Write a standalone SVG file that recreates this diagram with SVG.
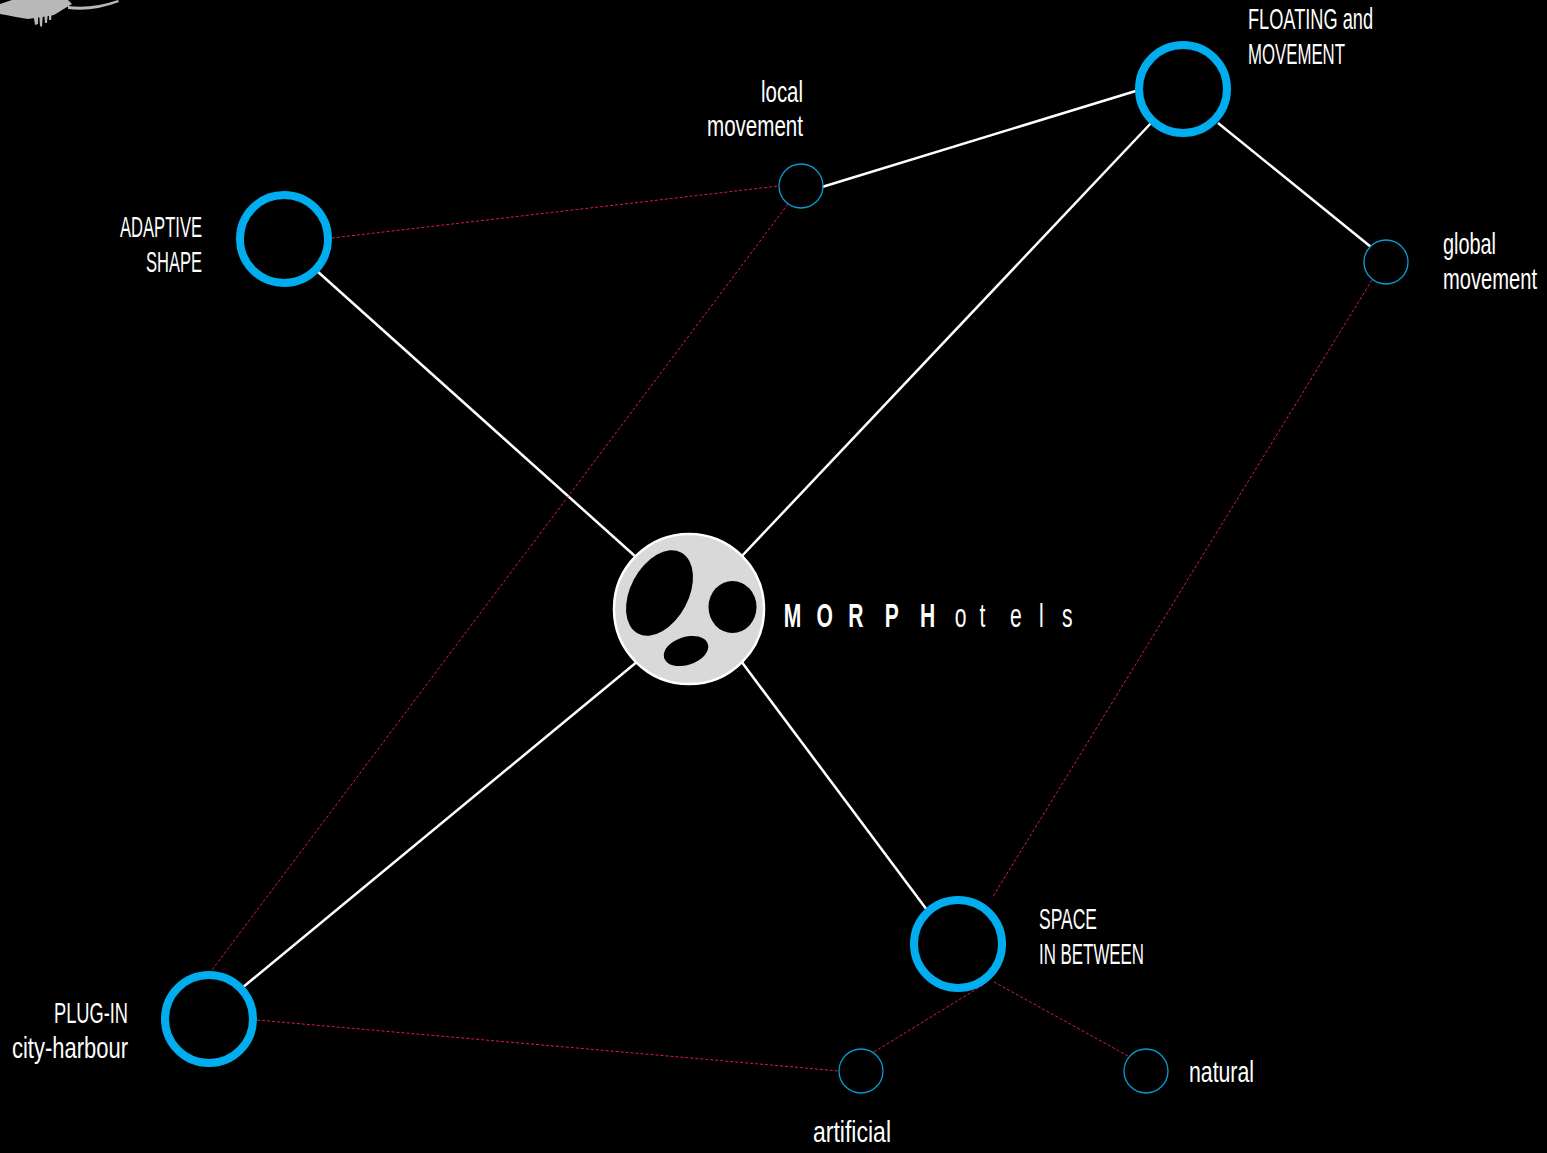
<svg xmlns="http://www.w3.org/2000/svg" width="1547" height="1153" viewBox="0 0 1547 1153">
  <style>
    .lbl { font-family: "Liberation Sans", Arial, sans-serif; font-size: 30px; fill: #ffffff; }
    .end { text-anchor: end; }
    .link { stroke: #ffffff; stroke-width: 2.5; fill: none; }
    .dash { stroke: #d8185c; stroke-width: 1; stroke-dasharray: 3 2; fill: none; }
    .hub { fill: #000000; stroke: #00aeef; stroke-width: 8; }
    .sub { fill: #000000; stroke: #0b9ad0; stroke-width: 1.3; }
  </style>
  <rect width="1547" height="1153" fill="#000000"/>

  <!-- sketch fragment, top-left corner -->
  <g id="sketch" fill="#b8b8b8" stroke="none">
    <path d="M0,4 L12,0 L68,0 L72,4 L62,10 L54,15 L42,17 L28,19 L16,17 L6,15 L0,14 Z"/>
    <path d="M33,12 L38,12 L38,24 L35,25 Z"/>
    <path d="M39,12 L43,12 L42,27 L40,26 Z"/>
    <path d="M44,11 L48,11 L47,23 L45,23 Z"/>
    <path d="M49,10 L52,10 L51,20 L49,20 Z"/>
    <path d="M68,6 Q92,9 118,0 L119,2 Q93,12 68,9 Z"/>
  </g>

  <!-- connectors -->
  <g id="connectors">
    <line class="link" x1="822" y1="187" x2="1139" y2="90"/>
    <line class="link" x1="1218" y1="123" x2="1371" y2="247"/>
    <line class="link" x1="1153" y1="121" x2="741" y2="557"/>
    <line class="link" x1="317" y1="271" x2="636" y2="557"/>
    <line class="link" x1="242" y1="988" x2="638" y2="661"/>
    <line class="link" x1="741" y1="661" x2="927" y2="910"/>

    <line class="dash" x1="332" y1="238" x2="779" y2="186"/>
    <line class="dash" x1="788" y1="204" x2="212" y2="970"/>
    <line class="dash" x1="1372" y1="280" x2="992" y2="898"/>
    <line class="dash" x1="257" y1="1020" x2="839" y2="1071"/>
    <line class="dash" x1="983" y1="985" x2="874" y2="1052"/>
    <line class="dash" x1="994" y1="982" x2="1128" y2="1056"/>
  </g>

  <!-- main hub nodes -->
  <g id="node-floating">
    <circle class="hub" cx="1183" cy="89" r="44"/>
    <text class="lbl" x="1248" y="29" textLength="125" lengthAdjust="spacingAndGlyphs">FLOATING and</text>
    <text class="lbl" x="1248" y="64" textLength="97" lengthAdjust="spacingAndGlyphs">MOVEMENT</text>
  </g>
  <g id="node-adaptive">
    <circle class="hub" cx="284" cy="239" r="44"/>
    <text class="lbl" x="120" y="237" textLength="82" lengthAdjust="spacingAndGlyphs">ADAPTIVE</text>
    <text class="lbl" x="146" y="272" textLength="56" lengthAdjust="spacingAndGlyphs">SHAPE</text>
  </g>
  <g id="node-plugin">
    <circle class="hub" cx="209" cy="1019" r="44"/>
    <text class="lbl" x="54" y="1023" textLength="74" lengthAdjust="spacingAndGlyphs">PLUG-IN</text>
    <text class="lbl" x="12" y="1058" textLength="116" lengthAdjust="spacingAndGlyphs">city-harbour</text>
  </g>
  <g id="node-space">
    <circle class="hub" cx="958" cy="944" r="44"/>
    <text class="lbl" x="1039" y="929" textLength="58" lengthAdjust="spacingAndGlyphs">SPACE</text>
    <text class="lbl" x="1039" y="964" textLength="105" lengthAdjust="spacingAndGlyphs">IN BETWEEN</text>
  </g>

  <!-- secondary nodes -->
  <g id="node-local">
    <circle class="sub" cx="801" cy="186" r="22"/>
    <text class="lbl" x="761" y="102" textLength="42" lengthAdjust="spacingAndGlyphs">local</text>
    <text class="lbl" x="707" y="136" textLength="96" lengthAdjust="spacingAndGlyphs">movement</text>
  </g>
  <g id="node-global">
    <circle class="sub" cx="1386" cy="262" r="22"/>
    <text class="lbl end" x="1496" y="254" textLength="53" lengthAdjust="spacingAndGlyphs">global</text>
    <text class="lbl end" x="1537" y="289" textLength="94" lengthAdjust="spacingAndGlyphs">movement</text>
  </g>
  <g id="node-artificial">
    <circle class="sub" cx="861" cy="1071" r="22"/>
    <text class="lbl" x="813" y="1142" textLength="78" lengthAdjust="spacingAndGlyphs">artificial</text>
  </g>
  <g id="node-natural">
    <circle class="sub" cx="1146" cy="1071" r="22"/>
    <text class="lbl" x="1189" y="1082" textLength="65" lengthAdjust="spacingAndGlyphs">natural</text>
  </g>

  <!-- central logo -->
  <g id="node-morphotels">
    <circle cx="689" cy="609" r="75" fill="#d9d9d9" stroke="#ffffff" stroke-width="2.5"/>
    <ellipse cx="659.5" cy="593" rx="29" ry="46" transform="rotate(28 659.5 593)" fill="#000000"/>
    <ellipse cx="732.5" cy="607" rx="24" ry="26" fill="#000000"/>
    <ellipse cx="686" cy="651" rx="23" ry="14" transform="rotate(-18 686 651)" fill="#000000"/>
    <text transform="translate(0,627) scale(0.62,1)" font-family="'Liberation Sans', Arial, sans-serif" font-size="34" fill="#ffffff"><tspan font-weight="bold" x="1264 1317 1368 1427 1484">MORPH</tspan><tspan x="1540 1580 1629 1676 1713">otels</tspan></text>
  </g>
</svg>
